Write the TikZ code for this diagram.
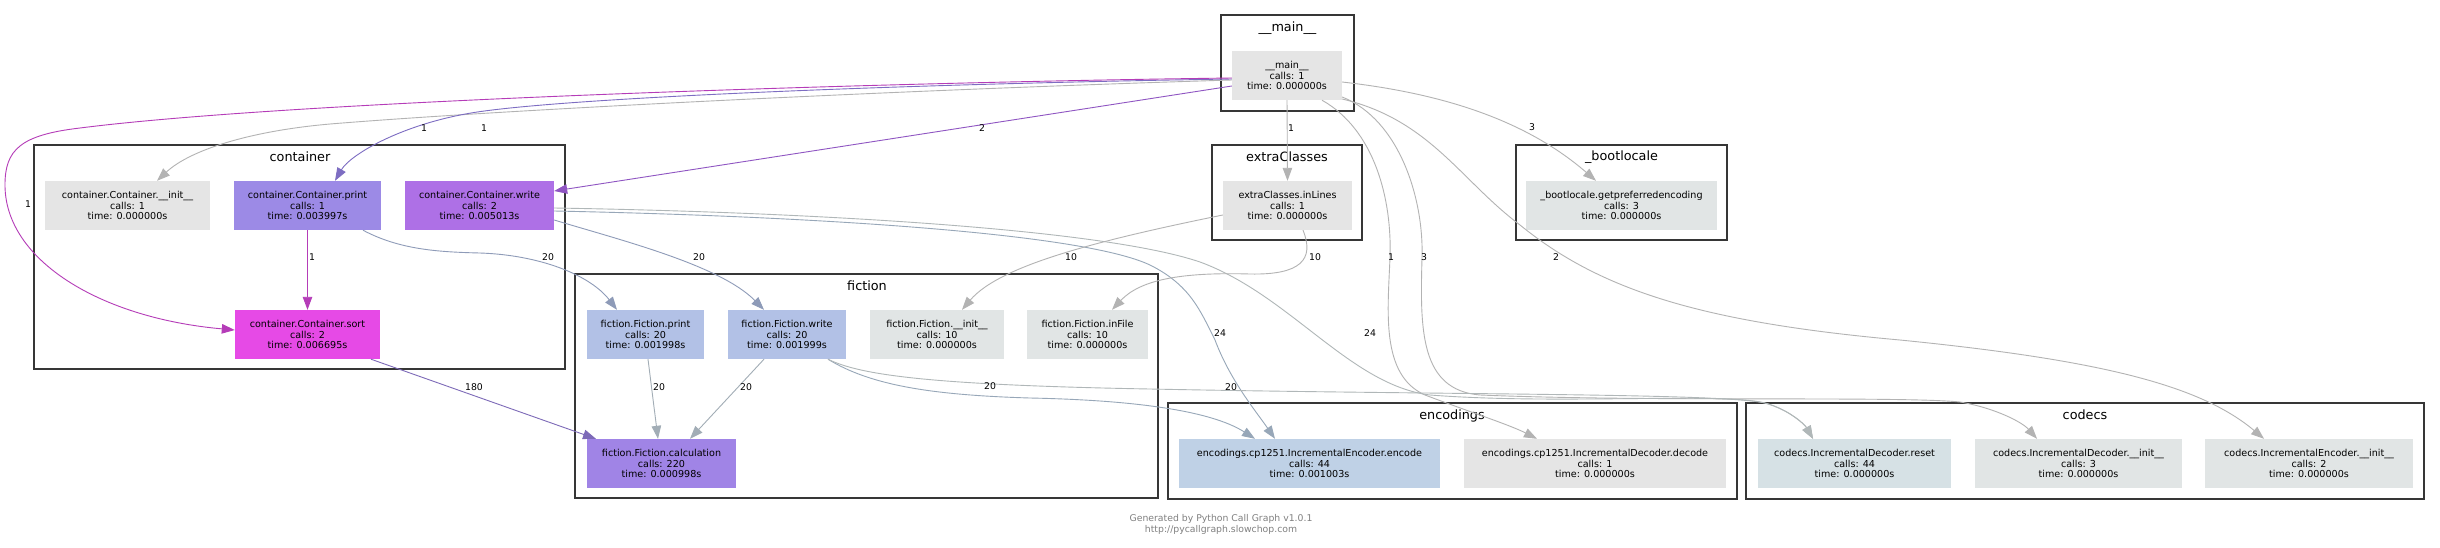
\documentclass[tikz,border=0pt]{standalone}
\usepackage{fontspec}
\setmainfont{DejaVu Sans}
\usetikzlibrary{arrows.meta}
\definecolor{ngray}{HTML}{E5E5E5}
\definecolor{ngrayb}{HTML}{E1E5E5}
\definecolor{cprintc}{HTML}{9C8AE6}
\definecolor{cwritec}{HTML}{AE70E6}
\definecolor{csortc}{HTML}{E64AE6}
\definecolor{fcalcc}{HTML}{A084E6}
\definecolor{fbluec}{HTML}{B2C1E6}
\definecolor{encc}{HTML}{BFD1E6}
\definecolor{resetc}{HTML}{D6E1E5}
\definecolor{clc}{HTML}{363636}
\definecolor{egray}{HTML}{B3B3B3}
\definecolor{emag}{HTML}{B53CB8}
\definecolor{ebp}{HTML}{7D6DC2}
\definecolor{epur}{HTML}{8F55C2}
\definecolor{eslate}{HTML}{8E9BB8}
\definecolor{eslate2}{HTML}{A2ADB6}
\definecolor{esort}{HTML}{7D6AB8}
\definecolor{eenc}{HTML}{97A7B8}
\definecolor{ereset}{HTML}{B0B7B8}
\definecolor{footc}{HTML}{808080}
\begin{document}
\begin{tikzpicture}[x=1pt,y=-1pt,
  fn/.style={rectangle, inner sep=0pt, minimum height=49pt, align=center,
    font=\fontsize{9.6}{10.8}\selectfont, text=black},
  clbox/.style={draw=clc, line width=2.5pt},
  cllab/.style={font=\fontsize{12.8}{14}\selectfont, inner sep=0pt},
  elab/.style={font=\fontsize{9.3}{10}\selectfont, inner sep=0pt},
  conn/.style={line width=0.9pt, -{Triangle[length=13pt,width=9.5pt]}},
  foot/.style={font=\fontsize{9.3}{11}\selectfont, text=footc, align=center, inner sep=0pt}]
\fill[white] (0,0) rectangle (2440,547);
\useasboundingbox (0,0) rectangle (2440,547);

% clusters
\draw[clbox] (1221,15) rectangle (1354,111);
\node[cllab] (lmain) at (1287.5,28) {\_\_main\_\_};
\draw[clbox] (1212,145) rectangle (1362,240);
\node[cllab] (lextra) at (1287,157) {extraClasses};
\draw[clbox] (1516,145) rectangle (1727,240);
\node[cllab] (lboot) at (1621.5,157) {\_bootlocale};
\draw[clbox] (34,145) rectangle (565,369);
\node[cllab] (lcont) at (300,157) {container};
\draw[clbox] (575,274) rectangle (1158,498);
\node[cllab] (lfic) at (867,286) {fiction};
\draw[clbox] (1168,403) rectangle (1737,499);
\node[cllab] (lenc) at (1452,416) {encodings};
\draw[clbox] (1746,403) rectangle (2424,499);
\node[cllab] (lcod) at (2085,415) {codecs};

% nodes
\node[fn, fill=ngray, minimum width=110pt] (mainN) at (1287,75.5) {\_\_main\_\_\\calls: 1\\time: 0.000000s};
\node[fn, fill=ngray, minimum width=129pt] (inlines) at (1287.5,205.5) {extraClasses.inLines\\calls: 1\\time: 0.000000s};
\node[fn, fill=ngrayb, minimum width=191pt] (boot) at (1621.5,205.5) {\_bootlocale.getpreferredencoding\\calls: 3\\time: 0.000000s};
\node[fn, fill=ngray, minimum width=165pt] (cinit) at (127.5,205.5) {container.Container.\_\_init\_\_\\calls: 1\\time: 0.000000s};
\node[fn, fill=cprintc, minimum width=147pt] (cprint) at (307.5,205.5) {container.Container.print\\calls: 1\\time: 0.003997s};
\node[fn, fill=cwritec, minimum width=149pt] (cwrite) at (479.5,205.5) {container.Container.write\\calls: 2\\time: 0.005013s};
\node[fn, fill=csortc, minimum width=145pt] (csort) at (307.5,334.5) {container.Container.sort\\calls: 2\\time: 0.006695s};
\node[fn, fill=fbluec, minimum width=117pt] (fprint) at (645.5,334.5) {fiction.Fiction.print\\calls: 20\\time: 0.001998s};
\node[fn, fill=fbluec, minimum width=118pt] (fwrite) at (787,334.5) {fiction.Fiction.write\\calls: 20\\time: 0.001999s};
\node[fn, fill=ngrayb, minimum width=134pt] (finit) at (937,334.5) {fiction.Fiction.\_\_init\_\_\\calls: 10\\time: 0.000000s};
\node[fn, fill=ngrayb, minimum width=121pt] (finfile) at (1087.5,334.5) {fiction.Fiction.inFile\\calls: 10\\time: 0.000000s};
\node[fn, fill=fcalcc, minimum width=149pt] (fcalc) at (661.5,463.5) {fiction.Fiction.calculation\\calls: 220\\time: 0.000998s};
\node[fn, fill=encc, minimum width=261pt] (encode) at (1309.5,463.5) {encodings.cp1251.IncrementalEncoder.encode\\calls: 44\\time: 0.001003s};
\node[fn, fill=ngray, minimum width=262pt] (decode) at (1595,463.5) {encodings.cp1251.IncrementalDecoder.decode\\calls: 1\\time: 0.000000s};
\node[fn, fill=resetc, minimum width=193pt] (reset) at (1854.5,463.5) {codecs.IncrementalDecoder.reset\\calls: 44\\time: 0.000000s};
\node[fn, fill=ngrayb, minimum width=207pt] (decinit) at (2078.5,463.5) {codecs.IncrementalDecoder.\_\_init\_\_\\calls: 3\\time: 0.000000s};
\node[fn, fill=ngrayb, minimum width=208pt] (encinit) at (2309,463.5) {codecs.IncrementalEncoder.\_\_init\_\_\\calls: 2\\time: 0.000000s};

% edges from __main__
\draw[conn, draw=egray] ([yshift=-4.5pt]mainN.west) .. controls (900,90) and (500,110) .. (330,124) .. controls (250,131) and (190,150) .. ([xshift=29.5pt]cinit.north);
\draw[conn, draw=ebp] ([yshift=-3.5pt]mainN.west) .. controls (900,84) and (560,98) .. (471,113) .. controls (400,125) and (350,155) .. ([xshift=27.5pt]cprint.north);
\draw[conn, draw=emag] ([yshift=-2.5pt]mainN.west) .. controls (900,82) and (300,100) .. (80,128) .. controls (20,135) and (5,150) .. (5,185) .. controls (5,260) and (100,318) .. ([yshift=4.5pt]csort.west);
\draw[conn, draw=epur] ([yshift=-10.5pt]mainN.west) -- ([yshift=14.5pt]cwrite.east);
\draw[conn, draw=egray] (mainN.south) -- (inlines.north);
\draw[conn, draw=egray] ([yshift=-6.5pt]mainN.east) .. controls (1430,92) and (1520,115) .. ([xshift=-25.5pt]boot.north);
\draw[conn, draw=egray] ([xshift=35pt]mainN.south) .. controls (1375,130) and (1392,200) .. (1390,257) .. controls (1388,310) and (1380,375) .. (1425,395) .. controls (1470,412) and (1510,425) .. ([xshift=-58pt]decode.north);
\draw[conn, draw=egray] ([yshift=-21.5pt]mainN.east) .. controls (1400,120) and (1424,200) .. (1422,258) .. controls (1420,330) and (1420,390) .. (1480,395) .. controls (1650,402) and (1900,396) .. (1960,402) .. controls (1995,408) and (2022,422) .. ([xshift=-41.5pt]decinit.north);
\draw[conn, draw=egray] ([yshift=-23.5pt]mainN.east) .. controls (1430,120) and (1460,180) .. (1520,225) .. controls (1600,290) and (1700,322) .. (1900,340) .. controls (2100,360) and (2200,385) .. ([xshift=-45pt]encinit.north);

% container edges
\draw[conn, draw=emag] (cprint.south) -- (csort.north);
\draw[conn, draw=eslate] ([xshift=55.5pt]cprint.south) .. controls (400,250) and (440,252) .. (480,253) .. controls (540,255) and (590,275) .. ([xshift=-28.5pt]fprint.north);
\draw[conn, draw=eslate] ([yshift=-14.5pt]cwrite.east) .. controls (620,240) and (720,265) .. ([xshift=-23pt]fwrite.north);
\draw[conn, draw=esort] ([xshift=63.5pt]csort.south) -- ([xshift=-65.5pt]fcalc.north);
\draw[conn, draw=eenc] ([yshift=-5.5pt]cwrite.east) .. controls (800,216) and (1080,232) .. (1150,265) .. controls (1190,285) and (1200,310) .. (1215,340) .. controls (1230,380) and (1255,410) .. ([xshift=-34.5pt]encode.north);
\draw[conn, draw=ereset] ([yshift=-2.5pt]cwrite.east) .. controls (800,212) and (1100,228) .. (1200,262) .. controls (1290,295) and (1350,385) .. (1430,395) .. controls (1560,405) and (1720,392) .. (1765,403) .. controls (1790,410) and (1805,425) .. ([xshift=-41.5pt]reset.north);

% fiction edges
\draw[conn, draw=eslate2] ([xshift=2.5pt]fprint.south) -- ([xshift=-3.5pt]fcalc.north);
\draw[conn, draw=eslate2] ([xshift=-23pt]fwrite.south) -- ([xshift=28.5pt]fcalc.north);
\draw[conn, draw=eenc] ([xshift=41pt]fwrite.south) .. controls (870,385) and (930,395) .. (1030,398) .. controls (1130,400) and (1210,410) .. ([xshift=-54.5pt]encode.north);
\draw[conn, draw=ereset] ([xshift=41pt]fwrite.south) .. controls (860,375) and (930,385) .. (1150,389) .. controls (1450,395) and (1720,393) .. (1765,403) .. controls (1790,410) and (1805,425) .. ([xshift=-41.5pt]reset.north);

% extraClasses edges
\draw[conn, draw=egray] ([yshift=-9.5pt]inlines.west) .. controls (1100,240) and (1000,265) .. ([xshift=25pt]finit.north);
\draw[conn, draw=egray] ([xshift=15.5pt]inlines.south) .. controls (1315,260) and (1300,275) .. (1250,274) .. controls (1180,272) and (1140,280) .. ([xshift=24.5pt]finfile.north);

% edge labels
\node[elab] (l1) at (424,128) {1};
\node[elab] (l2) at (484,128) {1};
\node[elab] (l3) at (28,204) {1};
\node[elab] (l4) at (982,128) {2};
\node[elab] (l5) at (1291,128) {1};
\node[elab] (l6) at (1532,127) {3};
\node[elab] (l7) at (1391,257) {1};
\node[elab] (l8) at (1424,257) {3};
\node[elab] (l9) at (1556,257) {2};
\node[elab] (l10) at (312,257) {1};
\node[elab] (l11) at (548,257) {20};
\node[elab] (l12) at (699,257) {20};
\node[elab] (l13) at (474,387) {180};
\node[elab] (l14) at (659,387) {20};
\node[elab] (l15) at (746,387) {20};
\node[elab] (l16) at (1071,257) {10};
\node[elab] (l17) at (1315,257) {10};
\node[elab] (l18) at (1220,333) {24};
\node[elab] (l19) at (1370,333) {24};
\node[elab] (l20) at (990,386) {20};
\node[elab] (l21) at (1231,387) {20};

% footer
\node[foot] (footer) at (1221,524.5) {Generated by Python Call Graph v1.0.1\\http://pycallgraph.slowchop.com};
\end{tikzpicture}
\end{document}
